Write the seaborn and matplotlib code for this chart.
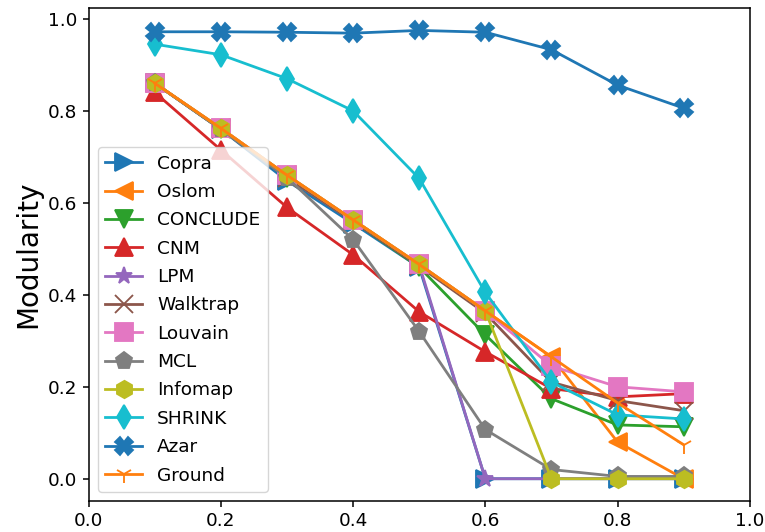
import matplotlib
matplotlib.use('Agg')
import pandas as pd
import seaborn as sns
from matplotlib import pyplot as plt

noise = [0.1, 0.2, 0.3, 0.4, 0.5, 0.6, 0.7, 0.8, 0.9]

copra = [0.86, 0.76, 0.648, 0.555, 0.46, 0.0, 0.0, 0.0, 0.0]
oslom = [0.86, 0.762, 0.66, 0.563, 0.466, 0.365, 0.265, 0.08, 0.0]
conclude = [0.86, 0.76, 0.655, 0.56, 0.46, 0.313, 0.174, 0.117, 0.113]
cnm = [0.84, 0.715, 0.59, 0.487, 0.363, 0.276, 0.196, 0.178, 0.185]
lpm = [0.86, 0.76, 0.655, 0.56, 0.465, 0.0, 0.0, 0.0, 0.0]
walktrap = [0.86, 0.76, 0.655, 0.56, 0.462, 0.36, 0.21, 0.17, 0.148]
louvain = [0.86, 0.762, 0.66, 0.563, 0.466, 0.365, 0.245, 0.2, 0.189]
mcl = [0.86, 0.76, 0.655, 0.52, 0.32, 0.107, 0.02, 0.005, 0.005]
infomap = [0.86, 0.762, 0.66, 0.563, 0.466, 0.365, 0.0, 0.0, 0.0]
shrink = [0.945, 0.922, 0.87, 0.80, 0.653, 0.405, 0.21, 0.139, 0.13]
azar = [0.972, 0.972, 0.971, 0.969, 0.975, 0.971, 0.933, 0.856, 0.806]
ground = [0.86, 0.762, 0.66, 0.563, 0.466, 0.365, 0.265, 0.165, 0.074]

methods = ['Copra', 'Oslom', 'CONCLUDE', 'CNM', 'LPM', 'Walktrap', 'Louvain',
           'MCL', 'Infomap', 'SHRINK', 'Azar', 'Ground']
values = [copra, oslom, conclude, cnm, lpm, walktrap, louvain,
          mcl, infomap, shrink, azar, ground]
markers = ['>', '<', 'v', '^', '*', 'x', 's', 'p', 'h', 'd', 'X', '1']
colors = ['C0', 'C1', 'C2', 'C3', 'C4', 'C5', 'C6', 'C7', 'C8', 'C9', 'C0', 'C1']


def plot_modularity():
    fig = plt.figure(figsize=(7.65, 5.32), dpi=100)
    ax = fig.add_axes([0.116, 0.058, 0.864, 0.927])

    for name, vals, m, c in zip(methods, values, markers, colors):
        df = pd.DataFrame({'Noise': noise, 'Modularity': vals})
        sns.lineplot(data=df, x='Noise', y='Modularity', ax=ax, label=name,
                     color=c, marker=m, markersize=12.5, linewidth=2,
                     markeredgecolor=c, markeredgewidth=1.33)

    ax.set_xlim(0.0, 1.0)
    ax.set_xticks([0.0, 0.2, 0.4, 0.6, 0.8, 1.0])
    ax.set_xlabel('')
    ax.set_ylabel('Modularity', fontsize=20)
    ax.tick_params(labelsize=13.3, length=4.6, width=1.1)
    for s in ax.spines.values():
        s.set_linewidth(1.1)
    ax.legend(loc='lower left', fontsize=13.3, labelspacing=0.56)

    plt.savefig('out.png', dpi=100)


if __name__ == '__main__':
    plot_modularity()
